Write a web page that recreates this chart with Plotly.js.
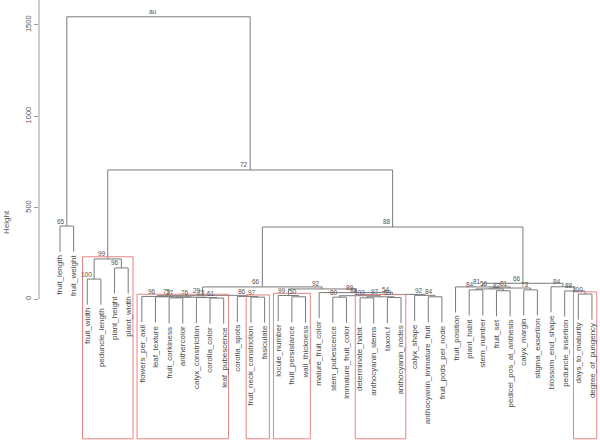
<!DOCTYPE html>
<html><head><meta charset="utf-8">
<script src="https://cdn.plot.ly/plotly-3.0.1.min.js"></script>
<style>html,body{margin:0;padding:0;background:#fff}#chart{width:600px;height:441px}</style>
</head><body><div id="chart"></div>
<script>
// Leaf labels in display order (leaf i sits at x = i)
const leafLabels = ["fruit_length","fruit_weight","fruit_width","peduncle_length","plant_height","plant_width",
 "flowers_per_axil","leaf_texture","fruit_corkiness","anthercolor","calyx_constriction","corolla_color","leaf_pubescence",
 "corolla_spots","fruit_neck_constriction","fasiculate","locule_number","fruit_persistance","wall_thickness",
 "mature_fruit_color","stem_pubescence","immature_fruit_color","determinate_habit","anthocyanin_stems","taxon.f",
 "anthocyanin_nodes","calyx_shape","anthocyanin_immature_fruit","fruit_pods_per_node","fruit_position","plant_habit",
 "stem_number","fruit_set","pedicel_pos_at_anthesis","calyx_margin","stigma_exsertion","blossom_end_shape",
 "peduncle_insertion","days_to_maturity","degree_of_pungency"];
// hclust-style merges: negative = leaf number, positive = earlier merge number
const mergeLeft   = [-1,-3,-5,2,-12,-11,-9,7,-8,-7,-15,-14,10,-18,-17,-21,-23,-25,17,16,-28,-27,20,-20,15,13,-31,-33,27,-35,29,-30,-39,-38,-37,32,26,4,1];
const mergeRight  = [-2,-4,-6,3,-13,5,-10,6,8,9,-16,11,12,-19,14,-22,-24,-26,18,19,-29,21,22,23,24,25,-32,-34,28,-36,30,31,-40,33,34,35,36,37,38];
const mergeHeight = [399,109,170,219,5,8,6,10,12,14,10,14,20,12,19,10,6,8,12,18,12,20,25,35,55,66,50,45,55,50,60,66,27,44,67,86,394,706,1544];
const mergeAU     = ["65","100","96","99","61","23","27","76","75","96","97","86","20","50","99","80","100","59","97","88","84","92","54","89","92","66","84","82","56","73","81","81","100","88","84","66","88","72","au"];
const boxedMerges = [4,10,11,15,19,33];
const yTickVals = [0,500,1000,1500];
const yTickText = ["0","500","1000","1500"];
const hang = 140;
const yRange = [-777,1636];
const xRange = [-0.54,40.59];

const nM = mergeLeft.length;
const nodeX = [null];
const cx = c => c < 0 ? -c : nodeX[c];
for (let i = 1; i <= nM; i++) nodeX[i] = (cx(mergeLeft[i-1]) + cx(mergeRight[i-1])) / 2;
const leafParentH = {};
const childTop = (c, h) => { if (c < 0) { leafParentH[-c] = h; return h - hang; } return mergeHeight[c-1]; };

const lx = [], ly = [];
for (let i = 1; i <= nM; i++) {
  const h = mergeHeight[i-1], a = mergeLeft[i-1], b = mergeRight[i-1];
  const ya = childTop(a, h), yb = childTop(b, h);
  lx.push(cx(a), cx(a), cx(b), cx(b), null);
  ly.push(ya, h, h, yb, null);
}
function members(c) { if (c < 0) return [-c]; return members(mergeLeft[c-1]).concat(members(mergeRight[c-1])); }

const ywd = yRange[1] - yRange[0], xwd = xRange[1] - xRange[0];
const mx = xwd / (nM) / 3, my = ywd / 200;
const shapes = boxedMerges.map(m => {
  const mem = members(m);
  return {type:'rect', xref:'x', yref:'y', x0: Math.min(...mem) - mx, x1: Math.max(...mem) + mx,
    y0: yRange[0] + my, y1: mergeHeight[m-1] + my, line:{color:'#e58585', width:1}, fillcolor:'rgba(0,0,0,0)'};
});
shapes.push({type:'line', xref:'paper', yref:'y', x0:0, x1:0, y0:0, y1:yRange[1], line:{color:'#999', width:1}});

const font = 'Liberation Sans, Arial, sans-serif';
const annotations = [];
leafLabels.forEach((lab, i) => {
  annotations.push({x: i+1, y: leafParentH[i+1] - hang, xref:'x', yref:'y', text: lab, showarrow:false,
    textangle:-90, xanchor:'center', yanchor:'top', yshift:-1, font:{family:font, size:8, color:'#4a4a4a'}});
});
for (let i = 1; i <= nM; i++) {
  annotations.push({x: nodeX[i], y: mergeHeight[i-1], xref:'x', yref:'y', text: mergeAU[i-1], showarrow:false,
    xanchor:'right', yanchor:'middle', xshift:0, yshift:5, font:{family:font, size:6.5, color:'#555'}});
}
annotations.push({x:-0.057, y:0.4966, xref:'paper', yref:'paper', text:'Height', showarrow:false, textangle:-90,
  xanchor:'center', yanchor:'middle', font:{family:font, size:8, color:'#555'}});

Plotly.newPlot('chart', [{type:'scatter', mode:'lines', x: lx, y: ly, line:{color:'#7a7a7a', width:1},
  hoverinfo:'skip', showlegend:false, connectgaps:false}], {
  width:600, height:441, margin:{l:39, r:0, t:0, b:0}, paper_bgcolor:'#fff', plot_bgcolor:'#fff',
  showlegend:false,
  xaxis:{range:xRange, visible:false, fixedrange:true},
  yaxis:{range:yRange, tickvals:yTickVals, ticktext:yTickText, ticks:'outside', ticklen:4, tickcolor:'#999',
    tickangle:-90, tickfont:{family:font, size:7.5, color:'#555'}, showgrid:false, zeroline:false, showline:false},
  shapes: shapes, annotations: annotations
}, {staticPlot:true});
</script></body></html>
